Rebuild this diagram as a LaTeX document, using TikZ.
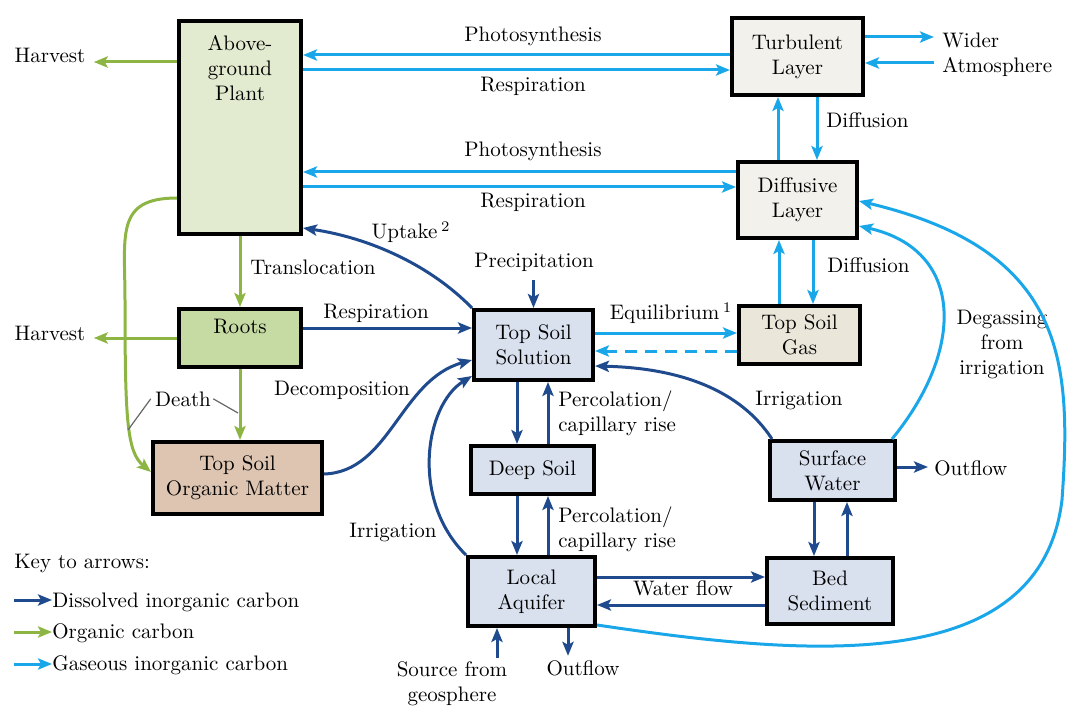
\documentclass[tikz,border=0pt]{standalone}
\usetikzlibrary{arrows.meta}
\definecolor{dkb}{HTML}{1F4B8E}
\definecolor{grn}{HTML}{8DB543}
\definecolor{ltb}{HTML}{1AA7EA}
\definecolor{fplant}{HTML}{E2EBCF}
\definecolor{froots}{HTML}{C6DBA3}
\definecolor{fsom}{HTML}{DDC5B2}
\definecolor{fblue}{HTML}{D9E1EF}
\definecolor{fair}{HTML}{F3F1EC}
\definecolor{fgas}{HTML}{EAE6DA}
\begin{document}
\begin{tikzpicture}[x=0.5pt,y=-0.5pt,
  every node/.style={font=\fontsize{10.5}{12.5}\selectfont, inner sep=0pt},
  box/.style={draw=black, line width=2pt, align=center, inner sep=0pt},
  flow/.style={line width=1.5pt, -{Stealth[length=7pt,width=5.6pt,inset=1.5pt]}},
  dic/.style={flow, draw=dkb},
  oc/.style={flow, draw=grn},
  gic/.style={flow, draw=ltb},
  lbl/.style={anchor=base},
  mlbl/.style={align=center},
  leader/.style={draw=black!60, line width=0.6pt}]
\useasboundingbox (0,0) rectangle (1067,706);

% boxes
\node[box, fill=fplant, minimum width=61pt, minimum height=106.5pt] (agp) at (240,127.5) {};
\node[anchor=north, align=center, yshift=-8pt] (agpT) at (agp.north) {Above-\\ground\\Plant};
\node[box, fill=fair, minimum width=65.5pt, minimum height=38.5pt] (turb) at (797.5,56.5) {Turbulent\\Layer};
\node[box, fill=fair, minimum width=59.5pt, minimum height=38pt] (diff) at (797.5,200) {Diffusive\\Layer};
\node[box, fill=froots, minimum width=61pt, minimum height=29pt] (roots) at (240,338) {};
\node[anchor=north, yshift=-6pt] (rootsT) at (roots.north) {Roots};
\node[box, fill=fsom, minimum width=84.5pt, minimum height=36pt] (tsom) at (237.5,478) {Top Soil\\Organic Matter};
\node[box, fill=fblue, minimum width=59.5pt, minimum height=35pt] (tss) at (533.5,345) {Top Soil\\Solution};
\node[box, fill=fgas, minimum width=60.5pt, minimum height=29pt] (gas) at (799.5,335) {Top Soil\\Gas};
\node[box, fill=fblue, minimum width=61.5pt, minimum height=24pt] (deep) at (532.5,470) {Deep Soil};
\node[box, fill=fblue, minimum width=62.5pt, minimum height=29.5pt] (sw) at (832.5,470.5) {Surface\\Water};
\node[box, fill=fblue, minimum width=63.5pt, minimum height=34.5pt] (aq) at (531.5,591.5) {Local\\Aquifer};
\node[box, fill=fblue, minimum width=63pt, minimum height=33pt] (bed) at (830,591) {Bed\\Sediment};

% labels
\node[lbl] (ph1) at (533,42) {Photosynthesis};
\node[lbl] (re1) at (533,92) {Respiration};
\node[lbl] (ph2) at (533,157) {Photosynthesis};
\node[lbl] (re2) at (533,208) {Respiration};
\node[lbl] (harv1) at (50,63) {Harvest};
\node[lbl] (harv2) at (50,340) {Harvest};
\node[align=left, anchor=west] (wider) at (942,55) {Wider\\Atmosphere};
\node[anchor=base west] (dif1) at (826,128) {Diffusion};
\node[anchor=base west] (dif2) at (827,272) {Diffusion};
\node[anchor=base west] (transl) at (250,275) {Translocation};
\node[lbl] (resR) at (376,318) {Respiration};
\node[lbl] (death) at (183,406) {Death};
\node[lbl] (decomp) at (342,395) {Decomposition};
\node[lbl] (prec) at (534,268) {Precipitation};
\node[lbl] (equil) at (671,320) {Equilibrium\,\textsuperscript{1}};
\node[lbl] (uptake) at (411,239) {Uptake\,\textsuperscript{2}};
\node[align=left, anchor=west] (perc1) at (558,413) {Percolation/\\capillary rise};
\node[align=left, anchor=west] (perc2) at (558,529) {Percolation/\\capillary rise};
\node[lbl] (irrR) at (799,405) {Irrigation};
\node[mlbl] (degas) at (1002,344) {Degassing\\from\\irrigation};
\node[anchor=base west] (outR) at (934,475) {Outflow};
\node[lbl] (irrL) at (393,537) {Irrigation};
\node[lbl] (wflow) at (683,595) {Water flow};
\node[mlbl] (src) at (452,684) {Source from\\geosphere};
\node[lbl] (outB) at (583,675) {Outflow};

% key
\node[anchor=base west] (key) at (14,568) {Key to arrows:};
\node[anchor=base west] (k1) at (52,607) {Dissolved inorganic carbon};
\node[anchor=base west] (k2) at (52,638) {Organic carbon};
\node[anchor=base west] (k3) at (52,670) {Gaseous inorganic carbon};
\coordinate (k1s) at (14,600);
\coordinate (k2s) at (14,632);
\coordinate (k3s) at (14,664);
\draw[dic] (k1s) -- (k1.west |- k1s);
\draw[oc] (k2s) -- (k2.west |- k2s);
\draw[gic] (k3s) -- (k3.west |- k3s);

% gaseous inorganic carbon
\draw[gic] (turb.west |- 0,55) -- (agp.east |- 0,55);
\draw[gic] (agp.east |- 0,70) -- (turb.west |- 0,70);
\draw[gic] (diff.west |- 0,172) -- (agp.east |- 0,172);
\draw[gic] (agp.east |- 0,187) -- (diff.west |- 0,187);
\draw[gic, shorten >=4pt] (turb.east |- 0,37) -- (wider.west |- 0,37);
\draw[gic, shorten <=4pt] (wider.west |- 0,63) -- (turb.east |- 0,63);
\draw[gic] (diff.north -| 778,0) -- (turb.south -| 778,0);
\draw[gic] (turb.south -| 817,0) -- (diff.north -| 817,0);
\draw[gic] (gas.north -| 779,0) -- (diff.south -| 779,0);
\draw[gic] (diff.south -| 813,0) -- (gas.north -| 813,0);
\draw[gic] (tss.east |- 0,333) -- (gas.west |- 0,333);
\draw[gic, dash pattern=on 6pt off 4pt] (gas.west |- 0,351) -- (tss.east |- 0,351);
\draw[gic] (sw.north -| 892,0) .. controls (965,350) and (965,250) .. (diff.east |- 0,226);
\draw[gic] (aq.east |- 0,625) .. controls (800,655) and (1040,680) .. (1062,500)
  .. controls (1072,360) and (1065,250) .. (diff.east |- 0,201);

% dissolved inorganic carbon
\draw[dic] (tss.north west) .. controls (430,265) and (370,238) .. (agp.east |- 0,228);
\draw[dic] (roots.east |- 0,328) -- (tss.west |- 0,328);
\draw[dic] (tsom.east |- 0,474) .. controls (390,472) and (400,380) .. (tss.west |- 0,360);
\draw[dic] (aq.north west) .. controls (410,500) and (425,405) .. (tss.west |- 0,376);
\draw[dic, shorten <=4pt] (tss.north |- prec.south) -- (tss.north);
\draw[dic] (tss.south -| 517,0) -- (deep.north -| 517,0);
\draw[dic] (deep.north -| 548,0) -- (tss.south -| 548,0);
\draw[dic] (deep.south -| 517,0) -- (aq.north -| 517,0);
\draw[dic] (aq.north -| 548,0) -- (deep.south -| 548,0);
\draw[dic] (sw.north -| 772,0) .. controls (740,390) and (680,368) .. (tss.east |- 0,366);
\draw[dic, shorten >=3pt] (sw.east |- 0,467) -- (outR.west |- 0,467);
\draw[dic] (sw.south -| 814,0) -- (bed.north -| 814,0);
\draw[dic] (bed.north -| 847,0) -- (sw.south -| 847,0);
\draw[dic] (aq.east |- 0,577) -- (bed.west |- 0,577);
\draw[dic] (bed.west |- 0,605) -- (aq.east |- 0,605);
\draw[dic, shorten <=2pt] (src.north -| 497,0) -- (aq.south -| 497,0);
\draw[dic, shorten >=2pt] (aq.south -| 568,0) -- (outB.north -| 568,0);

% organic carbon
\draw[oc, shorten >=4pt] (agp.west |- 0,62) -- (harv1.east |- 0,62);
\draw[oc] (agp.south -| 240,0) -- (roots.north -| 240,0);
\draw[oc, shorten >=4pt] (roots.west |- 0,338) -- (harv2.east |- 0,338);
\draw[oc] (roots.south -| 240,0) -- (tsom.north -| 240,0);
\draw[oc] (agp.west |- 0,198) .. controls (115,198) and (125,235) .. (125,300)
  .. controls (125,420) and (127,452) .. (tsom.west |- 0,472);
\draw[leader] ([xshift=1pt]death.east) -- (238,413);
\draw[leader] ([xshift=-2pt]death.west) -- (128,430);
\end{tikzpicture}
\end{document}
